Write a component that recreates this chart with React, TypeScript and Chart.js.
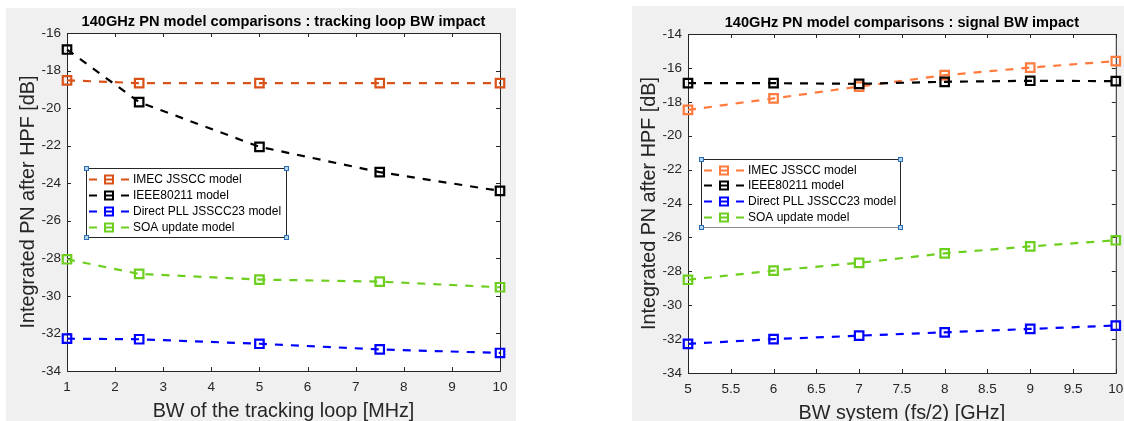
import React, { useEffect, useRef } from "react";
import { Chart, registerables } from "chart.js";

Chart.register(...registerables);

// Series shared by both panels
const seriesNames = [
  "IMEC JSSCC model",
  "IEEE80211 model",
  "Direct PLL JSSCC23 model",
  "SOA update model",
];

// Panel 1: tracking loop bandwidth sweep [MHz]
const loopBw = [1, 2.5, 5, 7.5, 10];
const loopImec = [-18.52, -18.67, -18.67, -18.67, -18.67];
const loopIeee = [-16.88, -19.68, -22.06, -23.41, -24.41];
const loopPll = [-32.28, -32.31, -32.55, -32.85, -33.04];
const loopSoa = [-28.05, -28.83, -29.13, -29.24, -29.54];
const loopColors = ["#D95319", "#000000", "#0000FF", "#6CCF1E"];

// Panel 2: system bandwidth sweep (fs/2) [GHz]
const sysBw = [5, 6, 7, 8, 9, 10];
const sysImec = [-18.48, -17.8, -17.1, -16.43, -15.98, -15.6];
const sysIeee = [-16.9, -16.9, -16.94, -16.82, -16.76, -16.78];
const sysPll = [-32.28, -32.0, -31.8, -31.6, -31.4, -31.2];
const sysSoa = [-28.5, -27.96, -27.5, -26.94, -26.53, -26.17];
const sysColors = ["#FF7A3D", "#000000", "#0000FF", "#6CCF1E"];

const FONT = '"Liberation Sans", Arial, Helvetica, sans-serif';
const AXIS_COLOR = "#262626";
const Y_W = 60;
const X_H = 40;

type Box = { x: number; y: number; w: number; h: number; bottomColor: string };

type PanelProps = {
  xs: number[];
  ys: number[][];
  colors: string[];
  xMin: number;
  xMax: number;
  xStep: number;
  yMin: number;
  yMax: number;
  yStep: number;
  title: string;
  xLabel: string;
  yLabel: string;
  width: number;
  height: number;
  area: { left: number; top: number; right: number; bottom: number };
  legendBox: Box;
};

// MATLAB-like axes: white plot box, inward ticks on all sides, titles, inset legend
const matlabAxes = {
  id: "matlabAxes",
  beforeDraw(chart: any) {
    const { ctx, chartArea: a } = chart;
    ctx.save();
    ctx.fillStyle = "#ffffff";
    ctx.fillRect(a.left, a.top, a.right - a.left, a.bottom - a.top);
    ctx.restore();
  },
  beforeDatasetsDraw(chart: any) {
    const { ctx, chartArea: a, scales } = chart;
    const tl = 4;
    ctx.save();
    ctx.strokeStyle = AXIS_COLOR;
    ctx.lineWidth = 1;
    ctx.beginPath();
    for (const t of scales.x.ticks) {
      const px = Math.round(scales.x.getPixelForValue(t.value)) + 0.5;
      ctx.moveTo(px, a.bottom);
      ctx.lineTo(px, a.bottom - tl);
      ctx.moveTo(px, a.top);
      ctx.lineTo(px, a.top + tl);
    }
    for (const t of scales.y.ticks) {
      const py = Math.round(scales.y.getPixelForValue(t.value)) + 0.5;
      ctx.moveTo(a.left, py);
      ctx.lineTo(a.left + tl, py);
      ctx.moveTo(a.right, py);
      ctx.lineTo(a.right - tl, py);
    }
    ctx.stroke();
    ctx.strokeRect(a.left + 0.5, a.top + 0.5, a.right - a.left, a.bottom - a.top);
    ctx.restore();
  },
  afterDraw(chart: any, _args: any, opts: any) {
    const { ctx, chartArea: a } = chart;
    ctx.save();
    const cx = (a.left + a.right) / 2;
    ctx.textAlign = "center";
    ctx.textBaseline = "alphabetic";
    ctx.fillStyle = "#000000";
    ctx.font = `bold 14.6px ${FONT}`;
    ctx.fillText(opts.title, cx, a.top - 7.5);

    ctx.fillStyle = AXIS_COLOR;
    ctx.font = `19.8px ${FONT}`;
    ctx.fillText(opts.xLabel, cx, a.bottom + 45.5);

    ctx.save();
    ctx.translate(a.left - 33.5, (a.top + a.bottom) / 2);
    ctx.rotate(-Math.PI / 2);
    ctx.fillText(opts.yLabel, 0, 0);
    ctx.restore();

    // inset legend
    const b: Box = opts.legendBox;
    ctx.fillStyle = "#ffffff";
    ctx.fillRect(b.x, b.y, b.w, b.h);
    ctx.lineWidth = 1;
    ctx.strokeStyle = AXIS_COLOR;
    ctx.beginPath();
    ctx.moveTo(b.x + 0.5, b.y + b.h + 0.5);
    ctx.lineTo(b.x + 0.5, b.y + 0.5);
    ctx.lineTo(b.x + b.w + 0.5, b.y + 0.5);
    ctx.lineTo(b.x + b.w + 0.5, b.y + b.h + 0.5);
    ctx.stroke();
    ctx.strokeStyle = b.bottomColor;
    ctx.beginPath();
    ctx.moveTo(b.x + 0.5, b.y + b.h + 0.5);
    ctx.lineTo(b.x + b.w + 0.5, b.y + b.h + 0.5);
    ctx.stroke();

    const rowStep = (b.h - 21) / 3;
    chart.data.datasets.forEach((ds: any, i: number) => {
      const ry = Math.round(b.y + 10.7 + rowStep * i) + 0.5;
      ctx.strokeStyle = ds.borderColor;
      ctx.lineWidth = 2;
      ctx.setLineDash([8, 8]);
      ctx.beginPath();
      ctx.moveTo(b.x + 3, ry);
      ctx.lineTo(b.x + 43, ry);
      ctx.stroke();
      ctx.setLineDash([]);
      ctx.strokeRect(b.x + 19, ry - 4, 8, 8);
      ctx.fillStyle = "#000000";
      ctx.font = `12px ${FONT}`;
      ctx.textAlign = "left";
      ctx.textBaseline = "middle";
      ctx.fillText(ds.label, b.x + 47, ry);
    });

    // selection handles on the legend corners
    ctx.lineWidth = 1;
    for (const [hx, hy] of [
      [b.x, b.y],
      [b.x + b.w, b.y],
      [b.x, b.y + b.h],
      [b.x + b.w, b.y + b.h],
    ]) {
      ctx.fillStyle = "#B4D3EE";
      ctx.strokeStyle = "#2A6FB5";
      ctx.fillRect(hx - 2, hy - 2, 5, 5);
      ctx.strokeRect(hx - 2 + 0.5, hy - 2 + 0.5, 4, 4);
    }
    ctx.restore();
  },
};

function Panel(p: PanelProps) {
  const ref = useRef<HTMLCanvasElement | null>(null);
  useEffect(() => {
    if (!ref.current) return;
    const tickFont = { family: FONT, size: 13.5 };
    const chart = new Chart(ref.current, {
      type: "line",
      data: {
        datasets: seriesNames.map((name, i) => ({
          label: name,
          data: p.xs.map((x, j) => ({ x, y: p.ys[i][j] })),
          borderColor: p.colors[i],
          backgroundColor: p.colors[i],
          borderWidth: 2.2,
          borderDash: [8, 8],
          pointStyle: "rect",
          pointRadius: 6,
          pointBorderWidth: 2.2,
          pointBorderColor: p.colors[i],
          pointBackgroundColor: "rgba(0,0,0,0)",
          tension: 0,
          clip: false,
          order: seriesNames.length - i,
        })),
      },
      options: {
        animation: false,
        responsive: false,
        devicePixelRatio: 1,
        events: [],
        layout: {
          padding: {
            left: p.area.left - Y_W,
            top: p.area.top,
            right: p.width - p.area.right,
            bottom: p.height - p.area.bottom - X_H,
          },
        },
        plugins: {
          legend: { display: false },
          tooltip: { enabled: false },
          title: { display: false },
          matlabAxes: {
            title: p.title,
            xLabel: p.xLabel,
            yLabel: p.yLabel,
            legendBox: p.legendBox,
          },
        } as any,
        scales: {
          x: {
            type: "linear",
            min: p.xMin,
            max: p.xMax,
            afterFit: (s: any) => {
              s.height = X_H;
              s.paddingLeft = 0;
              s.paddingRight = 0;
            },
            grid: { display: false, drawTicks: false },
            border: { display: false },
            ticks: {
              stepSize: p.xStep,
              autoSkip: false,
              maxRotation: 0,
              padding: 8,
              color: AXIS_COLOR,
              font: tickFont,
              callback: (v: any) => String(v),
            },
          },
          y: {
            type: "linear",
            min: p.yMin,
            max: p.yMax,
            afterFit: (s: any) => {
              s.width = Y_W;
              s.paddingTop = 0;
              s.paddingBottom = 0;
            },
            grid: { display: false, drawTicks: false },
            border: { display: false },
            ticks: {
              stepSize: p.yStep,
              autoSkip: false,
              padding: 6,
              color: AXIS_COLOR,
              font: tickFont,
              callback: (v: any) => String(v),
            },
          },
        },
      },
      plugins: [matlabAxes],
    } as any);
    return () => chart.destroy();
  }, []);
  return <canvas ref={ref} width={p.width} height={p.height} style={{ display: "block" }} />;
}

export default function App() {
  return (
    <div
      style={{
        position: "absolute",
        left: 0,
        top: 0,
        width: 1124,
        height: 421,
        background: "#ffffff",
        overflow: "hidden",
      }}
    >
      <div style={{ position: "absolute", left: 6, top: 8, width: 510, height: 413, background: "#F0F0F0" }} />
      <div style={{ position: "absolute", left: 632, top: 6, width: 492, height: 415, background: "#F0F0F0" }} />
      <div style={{ position: "absolute", left: 0, top: 0 }}>
        <Panel
          xs={loopBw}
          ys={[loopImec, loopIeee, loopPll, loopSoa]}
          colors={loopColors}
          xMin={1}
          xMax={10}
          xStep={1}
          yMin={-34}
          yMax={-16}
          yStep={2}
          title="140GHz PN model comparisons : tracking loop BW impact"
          xLabel="BW of the tracking loop [MHz]"
          yLabel="Integrated PN after HPF [dB]"
          width={520}
          height={421}
          area={{ left: 67, top: 33, right: 500, bottom: 371 }}
          legendBox={{ x: 86, y: 168, w: 200, h: 69, bottomColor: AXIS_COLOR }}
        />
      </div>
      <div style={{ position: "absolute", left: 560, top: 0 }}>
        <Panel
          xs={sysBw}
          ys={[sysImec, sysIeee, sysPll, sysSoa]}
          colors={sysColors}
          xMin={5}
          xMax={10}
          xStep={0.5}
          yMin={-34}
          yMax={-14}
          yStep={2}
          title="140GHz PN model comparisons : signal BW impact"
          xLabel="BW system (fs/2) [GHz]"
          yLabel="Integrated PN after HPF [dB]"
          width={564}
          height={421}
          area={{ left: 128, top: 34, right: 561, bottom: 373 }}
          legendBox={{ x: 141, y: 159, w: 199, h: 68, bottomColor: "#8C8C8C" }}
        />
      </div>
    </div>
  );
}
